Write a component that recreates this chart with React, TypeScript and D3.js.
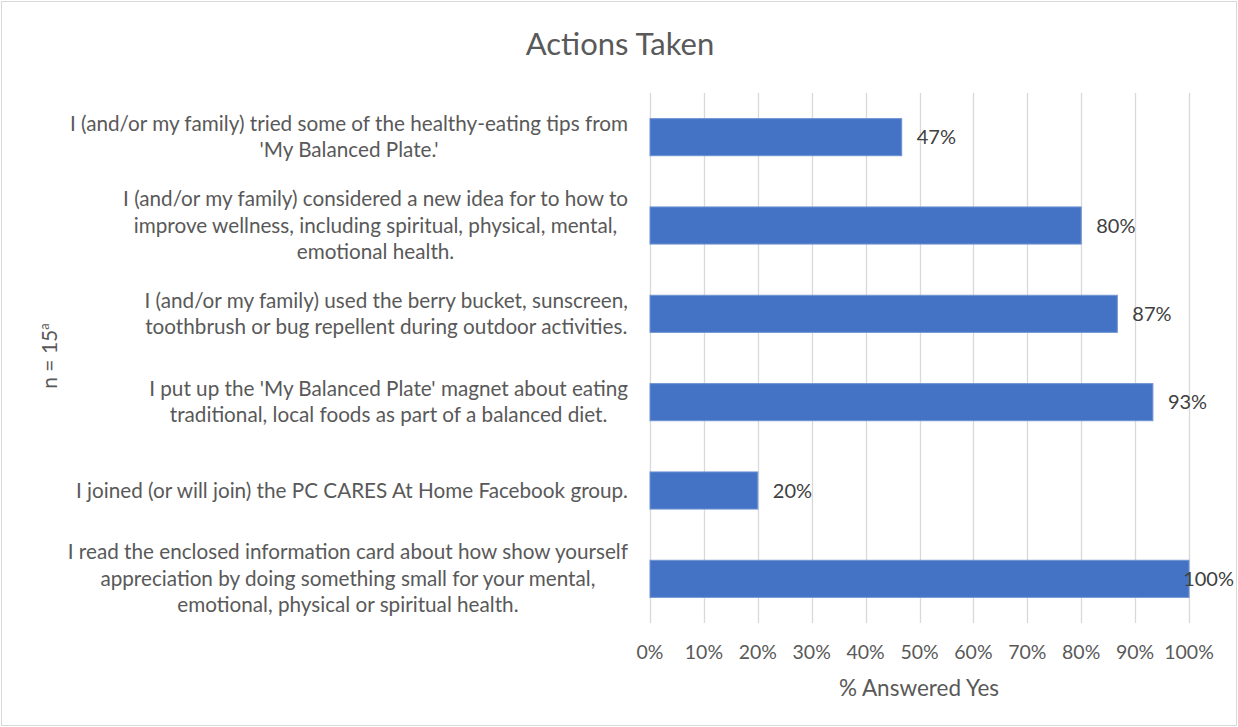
import React, { useEffect, useRef } from "react";
import * as d3 from "d3";

const categories: string[][] = [
  ["I (and/or my family) tried some of the healthy-eating tips from", "'My Balanced Plate.'"],
  ["I (and/or my family) considered a new idea for to how to", "improve wellness, including spiritual, physical, mental,", "emotional health."],
  ["I (and/or my family) used the berry bucket, sunscreen,", "toothbrush or bug repellent during outdoor activities."],
  ["I put up the 'My Balanced Plate' magnet about eating", "traditional, local foods as part of a balanced diet."],
  ["I joined (or will join) the PC CARES At Home Facebook group."],
  ["I read the enclosed information card about how show yourself", "appreciation by doing something small for your mental,", "emotional, physical or spiritual health."],
];
const values: number[] = [46.7, 80, 86.7, 93.3, 20, 100];
const valueLabels: string[] = ["47%", "80%", "87%", "93%", "20%", "100%"];
const ticks: number[] = [0, 10, 20, 30, 40, 50, 60, 70, 80, 90, 100];
const title = "Actions Taken";
const xTitle = "% Answered Yes";

const W = 1238, H = 727;
const FONT = "Lato, 'Open Sans', sans-serif";

export default function App() {
  const ref = useRef<SVGSVGElement>(null);
  useEffect(() => {
    document.body.style.margin = "0";
    const svg = d3.select(ref.current!);
    svg.selectAll("*").remove();

    const x = d3.scaleLinear().domain([0, 100]).range([650, 1189]);
    const y = d3.scaleBand<number>().domain(d3.range(categories.length)).range([93, 623]).paddingInner(0.58).paddingOuter(0.29);

    svg.append("rect").attr("x", 1.5).attr("y", 1.5).attr("width", W - 3).attr("height", H - 3)
      .attr("fill", "white").attr("stroke", "#d9d9d9").attr("stroke-width", 1);

    svg.append("text").attr("x", 620).attr("y", 55).attr("text-anchor", "middle")
      .attr("font-family", FONT).attr("font-size", 31).attr("fill", "#595959").text(title);

    // gridlines
    svg.append("g").selectAll("line").data(ticks).join("line")
      .attr("x1", d => Math.round(x(d)) + 0.5).attr("x2", d => Math.round(x(d)) + 0.5)
      .attr("y1", 93).attr("y2", 623).attr("stroke", "#d9d9d9").attr("stroke-width", 1.3);

    // tick labels
    svg.append("g").selectAll("text").data(ticks).join("text")
      .attr("x", d => x(d)).attr("y", 659).attr("text-anchor", "middle")
      .attr("font-family", FONT).attr("font-size", 19.5).attr("fill", "#595959").text(d => d + "%");

    svg.append("text").attr("x", 919).attr("y", 696).attr("text-anchor", "middle")
      .attr("font-family", FONT).attr("font-size", 22.5).attr("fill", "#595959").text(xTitle);

    // y title
    const yt = svg.append("text").attr("transform", "translate(57,356) rotate(-90)").attr("text-anchor", "middle")
      .attr("font-family", FONT).attr("font-size", 21).attr("fill", "#595959");
    yt.append("tspan").text("n = 15");
    yt.append("tspan").attr("font-size", 13).attr("dy", -8).text("a");

    // bars
    svg.append("g").selectAll("rect").data(values).join("rect")
      .attr("x", x(0)).attr("y", (_, i) => y(i)!).attr("width", d => x(d) - x(0)).attr("height", y.bandwidth())
      .attr("fill", "#4472c4").attr("stroke", "#6f93d3").attr("stroke-width", 1);

    // value labels
    const vl = svg.append("g");
    values.forEach((v, i) => {
      const t = vl.append("text").attr("y", y(i)! + y.bandwidth() / 2 + 7)
        .attr("font-family", FONT).attr("font-size", 20).attr("fill", "#404040").text(valueLabels[i]);
      const w = (t.node() as SVGTextElement).getComputedTextLength();
      t.attr("x", Math.min(x(v) + 15, 1234 - w));
    });

    // category labels
    const lineH = 26.5;
    categories.forEach((lines, i) => {
      const g = svg.append("g");
      const cy = y(i)! + y.bandwidth() / 2;
      const n = lines.length;
      const texts = lines.map((l, k) => g.append("text")
        .attr("y", cy + (k - (n - 1) / 2) * lineH + 7)
        .attr("text-anchor", "middle").attr("font-family", FONT).attr("font-size", 20.7)
        .attr("fill", "#595959").text(l));
      const maxW = d3.max(texts, t => (t.node() as SVGTextElement).getComputedTextLength())!;
      texts.forEach(t => t.attr("x", 628 - maxW / 2));
    });
  }, []);
  return <svg ref={ref} width={W} height={H} style={{ display: "block" }} />;
}
